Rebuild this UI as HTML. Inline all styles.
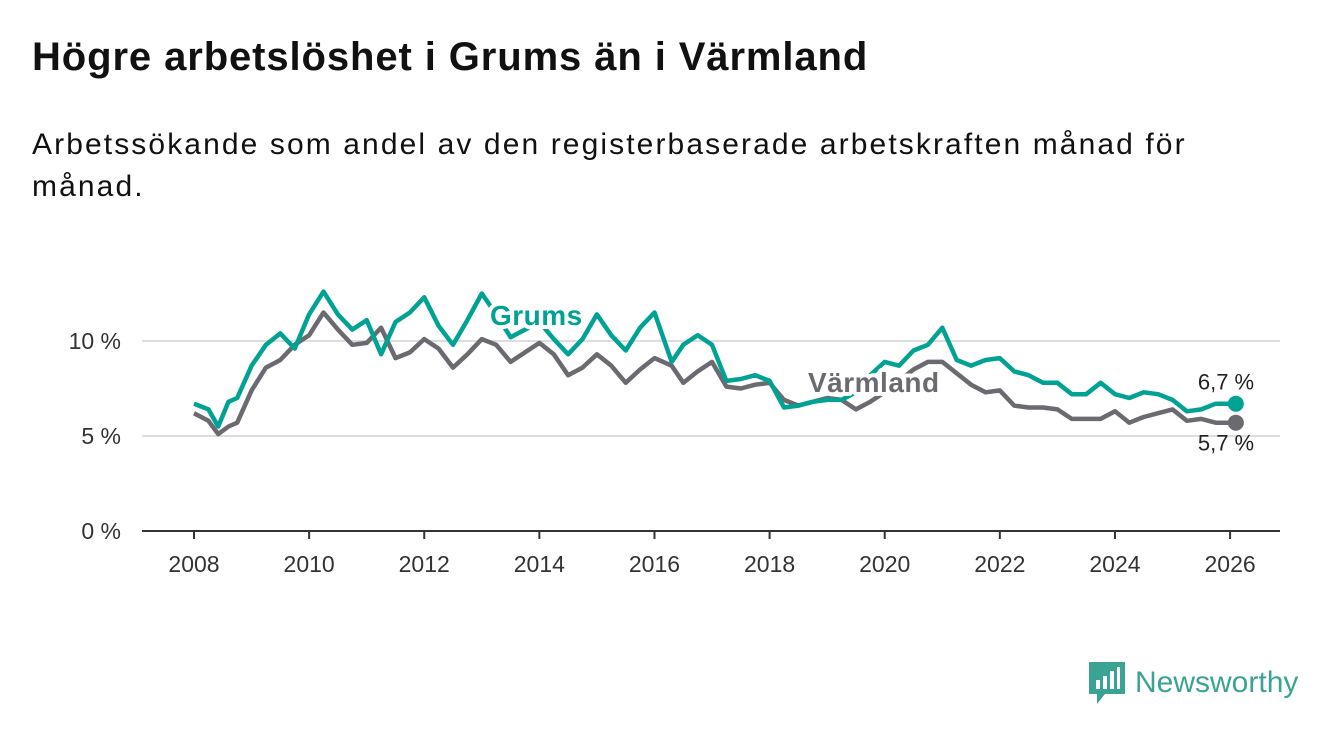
<!DOCTYPE html>
<html><head><meta charset="utf-8"><style>
body{margin:0;width:1340px;height:734px;background:#fff;font-family:"Liberation Sans",sans-serif;overflow:hidden;position:relative}
h1{position:absolute;left:32px;top:35px;margin:0;font-size:40px;font-weight:bold;color:#111;letter-spacing:0.9px}
p.sub{position:absolute;left:32px;top:124px;margin:0;font-size:30px;line-height:42px;color:#111;letter-spacing:2.1px;white-space:nowrap}
svg{position:absolute;left:0;top:0}
</style></head><body>
<h1>Högre arbetslöshet i Grums än i Värmland</h1>
<p class="sub">Arbetssökande som andel av den registerbaserade arbetskraften månad för<br>månad.</p>
<svg id="chart" width="1340" height="734"></svg>
<script>
const years=[2008,2008.25,2008.42,2008.6,2008.75,2009,2009.25,2009.5,2009.75,2010,2010.25,2010.5,2010.75,2011,2011.25,2011.5,2011.75,2012,2012.25,2012.5,2012.75,2013,2013.25,2013.5,2013.75,2014,2014.25,2014.5,2014.75,2015,2015.25,2015.5,2015.75,2016,2016.3,2016.5,2016.75,2017,2017.25,2017.5,2017.75,2018,2018.25,2018.5,2018.75,2019,2019.25,2019.5,2019.75,2020,2020.25,2020.5,2020.75,2021,2021.25,2021.5,2021.75,2022,2022.25,2022.5,2022.75,2023,2023.25,2023.5,2023.75,2024,2024.25,2024.5,2024.75,2025,2025.25,2025.5,2025.75,2026.1];
const grums=[6.7,6.4,5.5,6.8,7.0,8.7,9.8,10.4,9.6,11.4,12.6,11.4,10.6,11.1,9.3,11.0,11.5,12.3,10.8,9.8,11.1,12.5,11.4,10.2,10.6,11.0,10.1,9.3,10.1,11.4,10.3,9.5,10.7,11.5,8.9,9.8,10.3,9.8,7.9,8.0,8.2,7.9,6.5,6.6,6.8,6.9,6.9,7.3,8.2,8.9,8.7,9.5,9.8,10.7,9.0,8.7,9.0,9.1,8.4,8.2,7.8,7.8,7.2,7.2,7.8,7.2,7.0,7.3,7.2,6.9,6.3,6.4,6.7,6.7];
const varmland=[6.2,5.8,5.1,5.5,5.7,7.4,8.6,9.0,9.8,10.3,11.5,10.6,9.8,9.9,10.7,9.1,9.4,10.1,9.6,8.6,9.3,10.1,9.8,8.9,9.4,9.9,9.3,8.2,8.6,9.3,8.7,7.8,8.5,9.1,8.7,7.8,8.4,8.9,7.6,7.5,7.7,7.8,6.9,6.6,6.8,7.0,6.9,6.4,6.8,7.3,7.9,8.5,8.9,8.9,8.3,7.7,7.3,7.4,6.6,6.5,6.5,6.4,5.9,5.9,5.9,6.3,5.7,6.0,6.2,6.4,5.8,5.9,5.7,5.7];
const yTicks=[0,5,10];
const xTicks=[2008,2010,2012,2014,2016,2018,2020,2022,2024,2026];
const X=v=>194+(v-2008)*57.56;
const Y=v=>531-v*19;
const NS="http://www.w3.org/2000/svg";
const svg=document.getElementById('chart');
function mk(t,a,txt){const e=document.createElementNS(NS,t);for(const k in a)e.setAttribute(k,a[k]);if(txt!==undefined)e.textContent=txt;svg.appendChild(e);return e;}
yTicks.forEach(v=>{
  const l=mk('line',{x1:142,x2:1280,y1:Y(v),y2:Y(v),stroke:v===0?'#333':'#ddd','stroke-width':2});
  
  
  const t=mk('text',{x:121,y:Y(v)+8,'text-anchor':'end','font-size':23,fill:'#333'},v+' %');
  
  
});
xTicks.forEach(v=>{
  const l=mk('line',{x1:X(v),x2:X(v),y1:531,y2:539,stroke:'#333','stroke-width':2});
  
  
  const t=mk('text',{x:X(v),y:572,'text-anchor':'middle','font-size':23,fill:'#333'},v);
  
  
});
function line(arr,col,name){
  const d=arr.map((v,i)=>(i?'L':'M')+X(years[i]).toFixed(1)+','+Y(v).toFixed(1)).join('');
  const p=mk('path',{d:d,fill:'none',stroke:col,'stroke-width':4.5,'stroke-linejoin':'round'});
  
  
  const n=arr.length-1;
  const c=mk('circle',{cx:X(years[n]),cy:Y(arr[n]),r:8,fill:col});
  
  
}
line(varmland,'#6b6a70','varmland');
line(grums,'#00a294','grums');
const lab=(x,y,txt,col,name)=>{const t=mk('text',{x:x,y:y,'font-size':28,'font-weight':'bold',fill:col,stroke:'#fff','stroke-width':8,'paint-order':'stroke','stroke-linejoin':'round','letter-spacing':0.5},txt);
  
  };
lab(490,325,'Grums','#00a294','grums-label');
lab(808,392,'Värmland','#6b6a70','varmland-label');
const n=grums.length-1;
const e1=mk('text',{x:1226,y:Y(grums[n])-14,'text-anchor':'middle','font-size':22,fill:'#222'},grums[n].toString().replace('.',',')+' %');


const e2=mk('text',{x:1226,y:Y(varmland[n])+28,'text-anchor':'middle','font-size':22,fill:'#222'},varmland[n].toString().replace('.',',')+' %');


</script>
<div style="position:absolute;left:1089px;top:662px;display:flex;align-items:center">
<svg width="36" height="42" viewBox="0 0 36 42" style="position:static"><path d="M0 0H36V32H16L8 42V32H0Z" fill="#3aa394"/><rect x="7" y="18" width="4" height="9" fill="#fff"/><rect x="14" y="14" width="4" height="13" fill="#fff"/><rect x="21" y="9" width="4" height="18" fill="#fff"/><rect x="28" y="5" width="3" height="22" fill="#fff"/></svg>
<span style="font-size:30px;color:#3aa394;margin-left:10px;font-weight:500">Newsworthy</span></div>
</body></html>
